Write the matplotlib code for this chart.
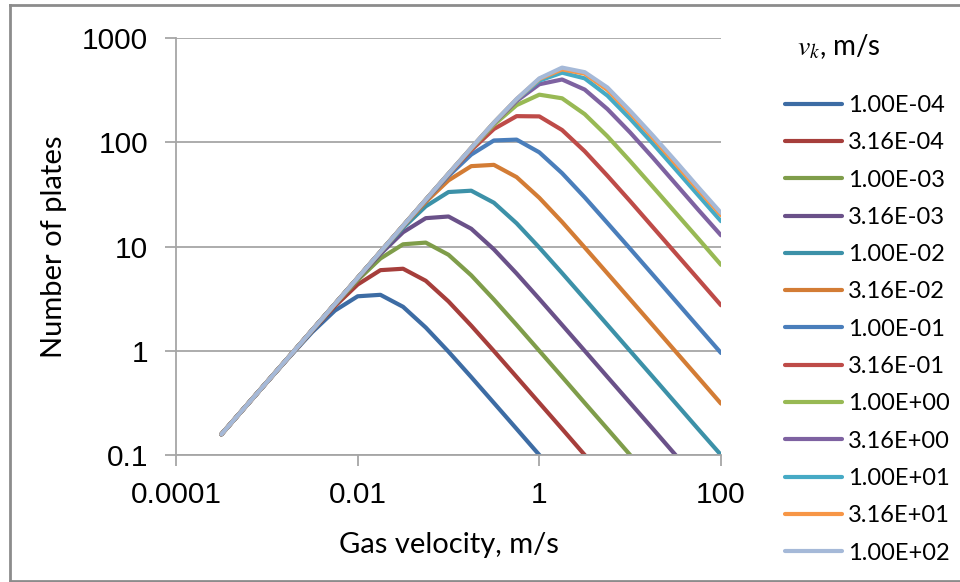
import numpy as np
import matplotlib
matplotlib.use('Agg')
import matplotlib.pyplot as plt
from matplotlib.lines import Line2D

plt.rcParams['mathtext.fontset'] = 'stix'

# gas velocity, m/s (x points)
velocity = [3.16e-4, 5.62e-4, 1.00e-3, 1.78e-3, 3.16e-3, 5.62e-3, 1.00e-2, 1.78e-2,
            3.16e-2, 5.62e-2, 1.00e-1, 1.78e-1, 3.16e-1, 5.62e-1, 1.00, 1.78,
            3.16, 5.62, 10.0, 17.8, 31.6, 56.2, 100.0]

vk_labels = ['1.00E-04', '3.16E-04', '1.00E-03', '3.16E-03', '1.00E-02', '3.16E-02',
             '1.00E-01', '3.16E-01', '1.00E+00', '3.16E+00', '1.00E+01', '3.16E+01',
             '1.00E+02']

rise = [0.158, 0.281, 0.500, 0.889, 1.58, 2.81, 5.00]

plates = [
    [0.158, 0.281, 0.498, 0.875, 1.51, 2.43, 3.33, 3.44, 2.64, 1.67, 0.98, 0.559,
     0.316, 0.178, 0.100, 0.056],
    [0.158, 0.281, 0.499, 0.884, 1.56, 2.68, 4.32, 5.93, 6.12, 4.69, 2.97, 1.74,
     0.994, 0.561, 0.316, 0.178, 0.100, 0.056],
    [0.158, 0.281, 0.500, 0.888, 1.57, 2.77, 4.76, 7.67, 10.5, 10.9, 8.33, 5.29,
     3.10, 1.77, 0.998, 0.562, 0.316, 0.178, 0.100, 0.056],
    [0.158, 0.281, 0.500, 0.888, 1.58, 2.80, 4.92, 8.47, 13.7, 18.7, 19.4, 14.8,
     9.39, 5.51, 3.14, 1.77, 0.998, 0.561, 0.316, 0.178, 0.100, 0.056],
    [0.158, 0.281, 0.500, 0.889, 1.58, 2.81, 4.98, 8.75, 15.1, 24.3, 33.3, 34.3,
     26.3, 16.7, 9.76, 5.56, 3.14, 1.77, 0.995, 0.560, 0.315, 0.177, 0.100],
    [0.158, 0.281, 0.500, 0.889, 1.58, 2.81, 4.99, 8.84, 15.6, 26.8, 43.1, 59.0,
     60.7, 46.3, 29.3, 17.2, 9.78, 5.52, 3.11, 1.75, 0.984, 0.554, 0.311],
    rise + [8.87, 15.7, 27.7, 47.5, 76.2, 104, 106, 80.0, 50.5, 29.6, 16.8, 9.51,
            5.35, 3.01, 1.69, 0.952],
    rise + [8.88, 15.8, 28.0, 49.1, 84.0, 134, 178, 177, 131, 81.9, 47.7, 27.2,
            15.3, 8.63, 4.86, 2.73],
    rise + [8.89, 15.8, 28.1, 49.6, 86.8, 147, 227, 286, 264, 186, 114, 65.8,
            37.3, 21.1, 11.9, 6.67],
    rise + [8.89, 15.8, 28.1, 49.8, 87.8, 152, 249, 360, 400, 320, 208, 124,
            71.0, 40.0, 22.5, 12.8],
    rise + [8.89, 15.8, 28.1, 49.9, 88.1, 154, 257, 390, 465, 410, 280, 168,
            97.0, 55.0, 31.0, 17.5],
    rise + [8.89, 15.8, 28.1, 49.9, 88.2, 154, 259, 405, 500, 455, 318, 190,
            110, 62.0, 35.0, 20.0],
    rise + [8.89, 15.8, 28.1, 49.9, 88.2, 154, 260, 410, 520, 470, 335, 200,
            116, 66.0, 37.0, 21.0],
]

colors = ['#3D6CA4', '#A63E3B', '#7F9D4A', '#6A5189', '#3C91A8', '#D37C35',
          '#4A7EBB', '#BE4B48', '#98B954', '#7E62A1', '#46AAC5', '#F79646',
          '#A5B9D8']

fig = plt.figure(figsize=(9.6, 5.82), dpi=100)
ax = fig.add_axes([176/960, 1-455/582, (721-176)/960, (455-38)/582])

for vals, lab, c in zip(plates, vk_labels, colors):
    ax.plot(velocity[:len(vals)], vals, color=c, lw=3.0, label=lab,
            solid_joinstyle='round', solid_capstyle='round')

ax.set_xscale('log')
ax.set_yscale('log')
ax.set_xlim(1e-4, 100)
ax.set_ylim(0.1, 1000)

grid_c = '#A6A6A6'
ax.set_xticks([1e-4, 1e-2, 1, 100])
ax.set_xticklabels(['0.0001', '0.01', '1', '100'])
ax.set_yticks([0.1, 1, 10, 100, 1000])
ax.set_yticklabels(['0.1', '1', '10', '100', '1000'])
ax.minorticks_off()
ax.tick_params(which='major', length=8, width=1.3, color=grid_c, direction='out',
               labelsize=21.5)
ax.tick_params(axis='x', pad=11)
ax.tick_params(axis='y', pad=12)
for lab in ax.get_xticklabels() + ax.get_yticklabels():
    lab.set_fontfamily('Liberation Sans')
ax.grid(axis='y', color=grid_c, lw=1.3)
ax.set_axisbelow(True)
for s in ['top', 'right']:
    ax.spines[s].set_visible(False)
for s in ['left', 'bottom']:
    ax.spines[s].set_color(grid_c)
    ax.spines[s].set_linewidth(1.3)

ax.set_xlabel('Gas velocity, m/s', fontsize=21, family='Lato', labelpad=16)
ax.set_ylabel('Number of plates', fontsize=21, family='Lato', labelpad=11)

fig.text(797/960, 1-47/582, r'$v_k$' + ', m/s', fontsize=20, family='Lato',
         va='center', ha='left')

fig.legend(loc='upper left', bbox_to_anchor=(785/960, 1-95/582), frameon=False,
           prop={'family': 'Lato', 'size': 17}, handlelength=2.4,
           handletextpad=0.25, labelspacing=0.69, borderpad=0, borderaxespad=0)

# outer chart border
border = '#8C8C8C'
fig.add_artist(Line2D([10/960, 10/960], [1-581/582, 1-5/582], color=border, lw=2,
                      transform=fig.transFigure))
fig.add_artist(Line2D([10/960, 1.0], [1-5/582, 1-5/582], color=border, lw=2,
                      transform=fig.transFigure))
fig.add_artist(Line2D([10/960, 1.0], [1-581/582, 1-581/582], color=border, lw=2,
                      transform=fig.transFigure))

fig.savefig('out.png', dpi=100)
plt.close()
